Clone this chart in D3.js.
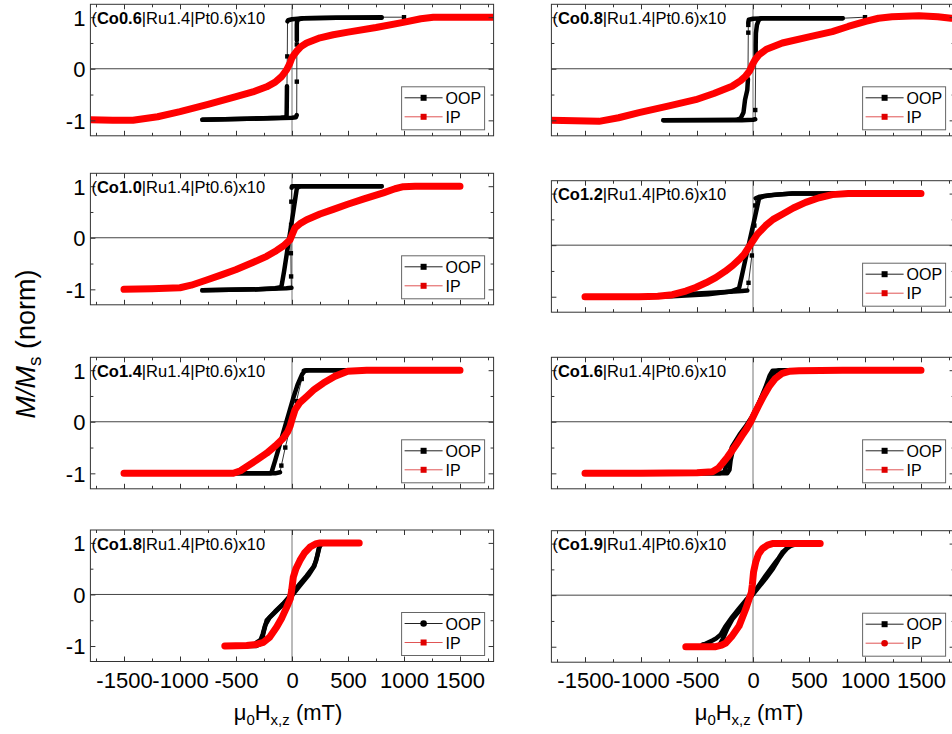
<!DOCTYPE html>
<html>
<head>
<meta charset="utf-8">
<script src="https://cdn.jsdelivr.net/npm/d3@7"></script>
<style>
  body { margin: 0; background: #fff; }
  svg { display: block; }
</style>
</head>
<body>
<svg id="chart" width="952" height="734"></svg>
<script>
// ---------------------------------------------------------------------------
// DATA  (field in mT, magnetisation normalised to Ms)
// ---------------------------------------------------------------------------
const samples = ['Co0.6', 'Co0.8', 'Co1.0', 'Co1.2', 'Co1.4', 'Co1.6', 'Co1.8', 'Co1.9'];
const stackLabel = '|Ru1.4|Pt0.6)x10';
const seriesNames = ['OOP', 'IP'];

const xMajor = [-1500, -1000, -500, 0, 500, 1000, 1500];
const xMinor = [-1750, -1250, -750, -250, 250, 750, 1250, 1750];
const yMajor = [-1, 0, 1];
const yMinor = [-0.5, 0.5];

// in-plane curves (red)
const ipCurves = [
  [[-1900,-0.99],[-1800,-0.99],[-1600,-1.0],[-1420,-1.0],[-1200,-0.93],[-1000,-0.83],[-750,-0.69],[-500,-0.54],[-350,-0.45],[-226,-0.35],[-150,-0.26],[-92,-0.15],[-48,-0.02],[-20,0.1],[-3,0.2],[20,0.28],[42,0.34],[80,0.43],[130,0.5],[250,0.6],[368,0.66],[500,0.71],[750,0.8],[993,0.9],[1150,0.97],[1262,1.0],[1500,1.0],[1800,1.0],[1900,1.0]],
  [[-1900,-1.0],[-1812,-1.0],[-1375,-1.02],[-1200,-0.95],[-1018,-0.85],[-750,-0.72],[-512,-0.6],[-350,-0.48],[-187,-0.34],[-110,-0.23],[-65,-0.14],[-30,-0.04],[-6,0.08],[20,0.18],[54,0.27],[120,0.38],[262,0.5],[500,0.62],[708,0.72],[850,0.82],[1006,0.92],[1120,0.98],[1241,1.01],[1482,1.03],[1650,1.01],[1768,0.98],[1900,0.95]],
  [[-1500,-1.0],[-1250,-0.99],[-1000,-0.97],[-900,-0.92],[-762,-0.82],[-630,-0.72],[-503,-0.62],[-350,-0.48],[-226,-0.36],[-140,-0.25],[-78,-0.16],[-18,-0.04],[5,0.08],[27,0.19],[70,0.27],[131,0.35],[250,0.46],[369,0.55],[497,0.65],[650,0.76],[815,0.87],[920,0.95],[994,0.99],[1100,1.0],[1500,1.0]],
  [[-1500,-1.0],[-1018,-1.0],[-850,-0.99],[-720,-0.96],[-600,-0.89],[-512,-0.82],[-420,-0.73],[-333,-0.63],[-250,-0.51],[-184,-0.4],[-120,-0.27],[-80,-0.18],[-20,0.02],[38,0.21],[113,0.38],[180,0.5],[262,0.6],[360,0.72],[470,0.83],[590,0.92],[708,0.98],[850,1.0],[1500,1.0]],
  [[-1500,-1.0],[-1000,-1.0],[-524,-1.0],[-460,-0.95],[-405,-0.87],[-320,-0.75],[-226,-0.61],[-150,-0.47],[-78,-0.32],[-40,-0.2],[-18,-0.09],[5,0.08],[27,0.23],[70,0.37],[131,0.49],[200,0.63],[280,0.75],[380,0.88],[497,0.98],[667,1.0],[1000,1.0],[1500,1.0]],
  [[-1500,-1.0],[-1000,-1.0],[-500,-0.99],[-363,-0.97],[-310,-0.9],[-274,-0.81],[-230,-0.69],[-184,-0.55],[-140,-0.41],[-95,-0.26],[-55,-0.13],[-20,0.0],[15,0.16],[54,0.33],[100,0.52],[143,0.68],[200,0.84],[262,0.94],[330,0.98],[411,0.99],[800,1.0],[1500,1.0]],
  [[-600,-1.0],[-405,-0.99],[-320,-0.97],[-256,-0.93],[-200,-0.83],[-137,-0.63],[-90,-0.45],[-48,-0.25],[-15,-0.08],[-3,0.08],[12,0.34],[35,0.5],[71,0.66],[110,0.8],[161,0.92],[210,0.98],[250,1.0],[600,1.0]],
  [[-600,-1.0],[-333,-1.0],[-280,-0.97],[-244,-0.93],[-190,-0.8],[-125,-0.6],[-65,-0.27],[-36,-0.08],[-15,0.05],[-6,0.2],[5,0.45],[24,0.64],[50,0.8],[83,0.9],[130,0.97],[173,1.0],[600,1.0]]
];

// out-of-plane loops (black), field sweeping down
const oopDown = [
  [[800,0.99],[400,0.99],[100,0.98],[0,0.96],[-35,0.94],[-40,0.92],[-42,0.24],[-45,-0.34],[-46,-0.55],[-47,-0.75],[-48,-0.9],[-55,-0.94],[-100,-0.95],[-400,-0.97],[-800,-0.99]],
  [[800,0.98],[100,0.98],[0,0.97],[-38,0.95],[-42,0.9],[-42,0.85],[-42,0.7],[-45,-0.2],[-51,-0.41],[-71,-0.6],[-85,-0.85],[-110,-0.96],[-150,-0.99],[-800,-1.0]],
  [[800,1.0],[100,1.0],[0,1.0],[-3,0.97],[-6,0.7],[-8,0.25],[-10,-0.3],[-8,-0.75],[-5,-0.97],[-50,-0.98],[-300,-1.0],[-800,-1.02]],
  [[1000,1.0],[350,1.0],[150,0.97],[60,0.94],[24,0.91],[20,0.77],[12,0.38],[-10,-0.2],[-40,-0.73],[-51,-0.88],[-100,-0.89],[-244,-0.91],[-542,-0.94],[-720,-0.98],[-1000,-1.0]],
  [[800,1.0],[130,1.0],[105,0.99],[87,0.83],[40,0.4],[-10,-0.05],[-60,-0.5],[-95,-0.85],[-107,-0.98],[-150,-1.0],[-800,-1.0]],
  [[800,1.0],[300,1.0],[175,0.99],[150,0.9],[110,0.66],[60,0.4],[0,0.08],[-60,-0.15],[-130,-0.35],[-180,-0.55],[-200,-0.75],[-210,-0.93],[-230,-1.0],[-800,-1.0]],
  [[400,1.0],[300,0.99],[265,0.98],[245,0.92],[232,0.8],[215,0.65],[190,0.53],[130,0.36],[71,0.21],[0,0.02],[-78,-0.18],[-150,-0.33],[-226,-0.5],[-250,-0.7],[-265,-0.85],[-290,-0.97],[-320,-1.0],[-400,-1.0]],
  [[450,1.0],[381,0.99],[321,0.95],[290,0.88],[262,0.83],[230,0.72],[202,0.64],[113,0.38],[40,0.15],[-6,0.04],[-65,-0.1],[-130,-0.27],[-185,-0.42],[-250,-0.62],[-290,-0.77],[-330,-0.84],[-363,-0.88],[-420,-0.94],[-450,-0.96]]
];

// out-of-plane loops (black), field sweeping up
const oopUp = [
  [[-800,-0.99],[-400,-0.97],[0,-0.95],[35,-0.94],[42,-0.9],[43,-0.25],[43,0.47],[43,0.55],[43,0.7],[43,0.85],[45,0.92],[60,0.96],[100,0.98],[400,0.99],[800,1.0],[1000,1.0]],
  [[-800,-1.0],[-100,-1.0],[0,-0.99],[20,-0.98],[20,-0.8],[24,0.17],[24,0.45],[26,0.69],[35,0.85],[50,0.94],[70,0.98],[800,0.98],[1000,1.0]],
  [[-800,-1.02],[-300,-1.0],[-150,-0.98],[-100,-0.96],[-92,-0.92],[-70,-0.64],[-45,-0.29],[-20,0.06],[10,0.48],[35,0.84],[42,0.94],[55,0.98],[80,1.0],[800,1.0]],
  [[-1000,-1.0],[-720,-0.99],[-400,-0.95],[-200,-0.9],[-125,-0.84],[-100,-0.6],[-70,-0.3],[-40,-0.01],[-10,0.28],[20,0.57],[40,0.77],[54,0.91],[100,0.95],[200,0.98],[351,1.0],[1000,1.0]],
  [[-800,-1.0],[-300,-1.0],[-190,-1.0],[-181,-0.97],[-150,-0.75],[-110,-0.45],[-70,-0.15],[-30,0.15],[10,0.45],[50,0.72],[90,0.92],[116,0.99],[150,1.0],[800,1.0],[1000,1.0],[1250,1.0],[1500,1.0]],
  [[-800,-1.0],[-300,-1.0],[-255,-0.97],[-247,-0.91],[-220,-0.7],[-188,-0.49],[-120,-0.25],[-69,-0.1],[-9,0.1],[50,0.35],[110,0.62],[160,0.82],[199,0.97],[230,1.0],[800,1.0]],
  [[-400,-1.0],[-340,-0.98],[-315,-0.93],[-280,-0.88],[-260,-0.76],[-240,-0.6],[-200,-0.45],[-130,-0.3],[-60,-0.15],[0,-0.02],[71,0.17],[150,0.38],[200,0.55],[225,0.75],[240,0.9],[255,0.98],[280,1.01],[400,1.0]],
  [[-450,-0.96],[-400,-0.97],[-330,-0.99],[-300,-0.97],[-270,-0.85],[-230,-0.65],[-185,-0.47],[-120,-0.3],[-65,-0.15],[-6,0.0],[60,0.18],[113,0.32],[180,0.52],[230,0.7],[262,0.8],[300,0.9],[340,0.96],[400,0.99],[450,1.0]]
];

// widely spaced OOP points (the switching jumps), drawn as single markers
const oopSparse = [
  [[-42,0.24],[43,-0.25],[43,0.47],[1000,1.0]],
  [[-42,0.85],[-42,0.7],[20,-0.8],[1000,1.0]],
  [[-6,0.7],[-8,0.25],[-10,-0.3],[-8,-0.75]],
  [[20,0.77],[12,0.38],[-10,-0.2],[-40,-0.73]],
  [[87,0.83],[40,0.4],[-10,-0.05],[-60,-0.5],[-95,-0.85],[1000,1.0],[1250,1.0],[1500,1.0]],
  [],
  [],
  []
];

// legend symbol per panel
const oopSymbol = ['square','square','square','square','square','square','circle','square'];
const ipSymbol  = ['square','square','square','square','square','square','square','circle'];

// ---------------------------------------------------------------------------
// LAYOUT
// ---------------------------------------------------------------------------
const FONT = '"Liberation Sans", Arial, Helvetica, sans-serif';
const BLACK = '#000', RED = '#ff0000', FRAME = '#333';
const frameW = 403.2, frameH = 131.5;
const colLeft = [90.4, 551.4];
const rowTop = [[4.3, 173.3, 357.3, 530], [4.3, 180.7, 357.3, 530.7]];

const svg = d3.select('#chart');
const defs = svg.append('defs');

const lineGen = (x, y) => d3.line().x(d => x(d[0])).y(d => y(d[1]));

samples.forEach((name, i) => {
  const col = i % 2, row = Math.floor(i / 2);
  const left = colLeft[col], top = rowTop[col][row];
  const x = d3.scaleLinear().domain([-1800, 1800]).range([left, left + frameW]);
  const y = d3.scaleLinear().domain([-1.3, 1.25]).range([top + frameH, top]);

  defs.append('clipPath').attr('id', `clip${i}`)
    .append('rect').attr('x', left).attr('y', top).attr('width', frameW).attr('height', frameH);

  const panel = svg.append('g');
  const plot = panel.append('g').attr('clip-path', `url(#clip${i})`);

  // zero lines
  plot.append('line').attr('x1', left).attr('x2', left + frameW)
    .attr('y1', y(0)).attr('y2', y(0)).attr('stroke', '#444').attr('stroke-width', 1);
  plot.append('line').attr('x1', x(0)).attr('x2', x(0))
    .attr('y1', top).attr('y2', top + frameH).attr('stroke', '#777').attr('stroke-width', 1);

  // OOP loop
  const sparseKeys = new Set(oopSparse[i].map(d => d.join(',')));
  const line = lineGen(x, y);
  const thick = lineGen(x, y).defined(d => !sparseKeys.has(d.join(',')));
  [oopDown[i], oopUp[i]].forEach(branch => {
    plot.append('path').attr('d', line(branch)).attr('fill', 'none')
      .attr('stroke', '#333').attr('stroke-width', 1);
    plot.append('path').attr('d', thick(branch)).attr('fill', 'none')
      .attr('stroke', BLACK).attr('stroke-width', 4.5)
      .attr('stroke-linejoin', 'round').attr('stroke-linecap', 'round');
  });
  plot.selectAll('rect.sparse').data(oopSparse[i]).join('rect').attr('class', 'sparse')
    .attr('x', d => x(d[0]) - 2.2).attr('y', d => y(d[1]) - 2.2)
    .attr('width', 4.4).attr('height', 4.4).attr('fill', BLACK);

  // IP curve
  plot.append('path').attr('d', line(ipCurves[i])).attr('fill', 'none')
    .attr('stroke', RED).attr('stroke-width', 7)
    .attr('stroke-linejoin', 'round').attr('stroke-linecap', 'round');

  // axes (ticks inside, on all four sides)
  const styleAxis = g => {
    g.select('.domain').remove();
    g.attr('color', FRAME).attr('font-family', FONT).attr('font-size', 22);
    g.selectAll('text').attr('fill', BLACK);
  };
  const fmt = d => String(d);
  const none = () => '';
  const bottom = top + frameH, right = left + frameW;

  panel.append('g').attr('transform', `translate(0,${bottom})`)
    .call(d3.axisBottom(x).tickValues(xMajor).tickSize(-5).tickFormat(row === 3 ? fmt : none))
    .call(styleAxis)
    .call(g => g.selectAll('text').attr('y', 26).attr('dy', null));
  panel.append('g').attr('transform', `translate(0,${bottom})`)
    .call(d3.axisBottom(x).tickValues(xMinor).tickSize(-3).tickFormat(none)).call(styleAxis);
  panel.append('g').attr('transform', `translate(0,${top})`)
    .call(d3.axisTop(x).tickValues(xMajor).tickSize(-5).tickFormat(none)).call(styleAxis);
  panel.append('g').attr('transform', `translate(0,${top})`)
    .call(d3.axisTop(x).tickValues(xMinor).tickSize(-3).tickFormat(none)).call(styleAxis);

  panel.append('g').attr('transform', `translate(${left},0)`)
    .call(d3.axisLeft(y).tickValues(yMajor).tickSize(-5).tickFormat(col === 0 ? fmt : none))
    .call(styleAxis)
    .call(g => g.selectAll('text').attr('x', -5).attr('dy', '0.36em'));
  panel.append('g').attr('transform', `translate(${left},0)`)
    .call(d3.axisLeft(y).tickValues(yMinor).tickSize(-3).tickFormat(none)).call(styleAxis);
  panel.append('g').attr('transform', `translate(${right},0)`)
    .call(d3.axisRight(y).tickValues(yMajor).tickSize(-5).tickFormat(none)).call(styleAxis);
  panel.append('g').attr('transform', `translate(${right},0)`)
    .call(d3.axisRight(y).tickValues(yMinor).tickSize(-3).tickFormat(none)).call(styleAxis);

  // frame
  panel.append('rect').attr('x', left).attr('y', top).attr('width', frameW).attr('height', frameH)
    .attr('fill', 'none').attr('stroke', FRAME).attr('stroke-width', 1);

  // sample label
  const lab = panel.append('text').attr('x', left + 1).attr('y', top + 19.5)
    .attr('font-family', FONT).attr('font-size', 16.5).attr('fill', BLACK);
  lab.append('tspan').text('(');
  lab.append('tspan').attr('font-weight', 'bold').text(name);
  lab.append('tspan').text(stackLabel);

  // legend
  const lw = 83, lh = 43;
  const leg = panel.append('g').attr('transform', `translate(${right - 9 - lw},${bottom - 6 - lh})`);
  leg.append('rect').attr('width', lw).attr('height', lh).attr('fill', '#fff')
    .attr('stroke', '#666').attr('stroke-width', 1);
  const symbols = [oopSymbol[i], ipSymbol[i]];
  const lineCols = ['#222', '#e05555'];
  const markCols = [BLACK, '#e00000'];
  seriesNames.forEach((s, k) => {
    const ry = 11 + k * 19;
    leg.append('line').attr('x1', 3).attr('x2', 41).attr('y1', ry).attr('y2', ry)
      .attr('stroke', lineCols[k]).attr('stroke-width', 1);
    if (symbols[k] === 'circle') {
      leg.append('circle').attr('cx', 22).attr('cy', ry).attr('r', 3.3).attr('fill', markCols[k]);
    } else {
      leg.append('rect').attr('x', 19).attr('y', ry - 3).attr('width', 6).attr('height', 6).attr('fill', markCols[k]);
    }
    leg.append('text').attr('x', 44).attr('y', ry + 6).attr('font-family', FONT)
      .attr('font-size', 16).attr('fill', BLACK).text(s);
  });

  // x-axis title under the bottom row
  if (row === 3) {
    const t = panel.append('text').attr('x', x(0) - 4).attr('y', 720)
      .attr('text-anchor', 'middle').attr('font-family', FONT).attr('font-size', 22).attr('fill', BLACK);
    t.append('tspan').text('\u03bc');
    t.append('tspan').attr('font-size', 15).attr('dy', 5).text('0');
    t.append('tspan').attr('dy', -5).text('H');
    t.append('tspan').attr('font-size', 15).attr('dy', 5).text('x,z');
    t.append('tspan').attr('dy', -5).text(' (mT)');
  }
});

// y-axis title
const yt = svg.append('text').attr('transform', 'translate(35,344) rotate(-90)')
  .attr('text-anchor', 'middle').attr('font-family', FONT).attr('font-size', 27).attr('fill', BLACK);
yt.append('tspan').attr('font-style', 'italic').text('M/M');
yt.append('tspan').attr('font-size', 19).attr('dy', 6).text('s');
yt.append('tspan').attr('dy', -6).text(' (norm)');
</script>
</body>
</html>
